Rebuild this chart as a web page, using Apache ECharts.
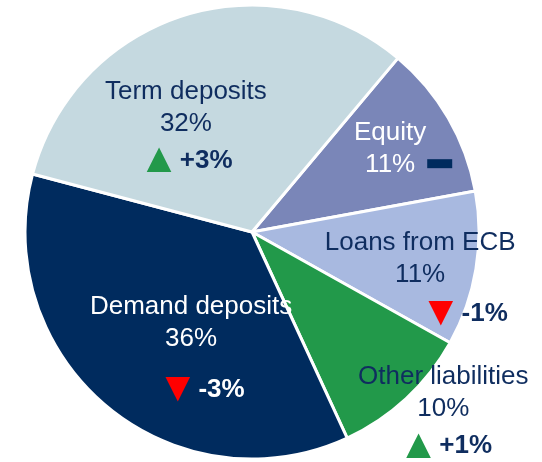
<!DOCTYPE html>
<html>
<head>
<meta charset="utf-8">
<script src="https://cdn.jsdelivr.net/npm/echarts@6/dist/echarts.min.js"></script>
<style>
  html, body { margin: 0; padding: 0; background: #fff; }
  #chart { width: 542px; height: 462px; }
</style>
</head>
<body>
<div id="chart"></div>
<script>
// slices, clockwise from the top right
const categories = ['Equity', 'Loans from ECB', 'Other liabilities', 'Demand deposits', 'Term deposits'];
const shares = [11, 11, 10, 36, 32];
const changes = [0, -1, 1, -3, 3];

const colors = ['#7A86B8', '#A8B9E0', '#22994A', '#002B5E', '#C5D9E0'];
const textColors = ['#ffffff', '#0F2D5F', '#0F2D5F', '#ffffff', '#0F2D5F'];
// where the labels sit: [angle in degrees, fraction of radius]
const namePlace = [[31, 0.71], [-9, 0.75], [-40, 1.10], [-124, 0.48], [118, 0.62]];
const changePlace = [[20, 0.88], [-21, 1.0], [-48, 1.27], [-108, 0.73], [133, 0.43]];

const CX = 252, CY = 232, R = 227;
const FONT = '"Liberation Sans", Arial, sans-serif';

function placeLabel(place) {
  return function (params) {
    const p = place[params.dataIndex];
    const a = p[0] * Math.PI / 180;
    return {
      x: CX + Math.cos(a) * p[1] * R,
      y: CY - Math.sin(a) * p[1] * R,
      align: 'center',
      verticalAlign: 'middle'
    };
  };
}

function changeText(v) {
  if (v > 0) return '{up|▲}{val|+' + v + '%}';
  if (v < 0) return '{down|▼}{val|' + v + '%}';
  return '{bar| }';
}

const chart = echarts.init(document.getElementById('chart'), null, {renderer: 'canvas'});

let mainData = categories.map(function (name, i) {
  return {
    name: name,
    value: shares[i],
    itemStyle: {color: colors[i]},
    label: {color: textColors[i]}
  };
});

let changeData = categories.map(function (name, i) {
  return {
    name: name,
    value: shares[i],
    label: {color: textColors[i], formatter: changeText(changes[i])}
  };
});

chart.setOption({
  animation: false,
  series: [{
    type: 'pie',
    center: [CX, CY],
    radius: R,
    startAngle: 50,
    clockwise: true,
    avoidLabelOverlap: false,
    itemStyle: {borderColor: '#ffffff', borderWidth: 3},
    label: {
      show: true,
      position: 'inside',
      rotate: 0,
      fontFamily: FONT,
      fontSize: 26,
      lineHeight: 32,
      align: 'center',
      formatter: function (p) { return p.name + '\n' + p.value + '%'; }
    },
    labelLine: {show: false},
    labelLayout: placeLabel(namePlace),
    data: mainData
  }, {
    type: 'pie',
    center: [CX, CY],
    radius: R,
    startAngle: 50,
    silent: true,
    avoidLabelOverlap: false,
    itemStyle: {color: 'transparent', borderWidth: 0},
    label: {
      show: true,
      position: 'inside',
      rotate: 0,
      fontFamily: FONT,
      rich: {
        up: {color: '#22994A', fontSize: 42, lineHeight: 30, fontFamily: FONT},
        down: {color: '#FF0000', fontSize: 42, lineHeight: 30, fontFamily: FONT},
        val: {fontSize: 26, lineHeight: 30, fontWeight: 'bold', fontFamily: FONT},
        bar: {backgroundColor: '#002B5E', width: 25, height: 9, fontSize: 9}
      }
    },
    labelLine: {show: false},
    labelLayout: placeLabel(changePlace),
    data: changeData
  }]
});
</script>
</body>
</html>
